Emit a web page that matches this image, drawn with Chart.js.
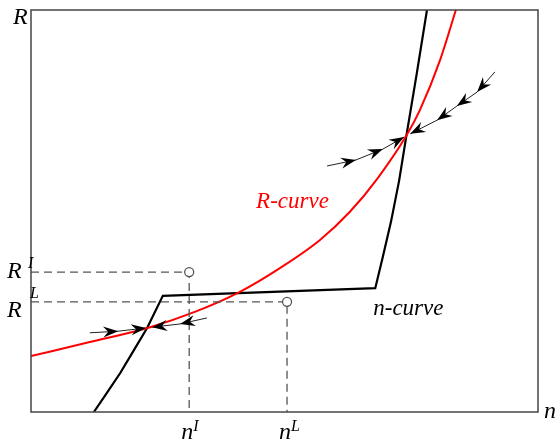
<!DOCTYPE html>
<html>
<head>
<meta charset="utf-8">
<script src="https://cdn.jsdelivr.net/npm/chart.js@4.4.1/dist/chart.umd.min.js"></script>
<style>
  html, body { margin: 0; padding: 0; background: #fff; }
  #wrap { width: 557px; height: 441px; }
</style>
</head>
<body>
<div id="wrap"><canvas id="grafico" width="557" height="441"></canvas></div>
<script>
// curva R (vermelha)
var rCurveX = [0, 11.6, 23.5, 32.3, 41.2, 49.1, 57.0, 62.9, 68.4, 74.1, 76.7, 80.7, 83.8];
var rCurveY = [13.9, 17.4, 21.1, 24.9, 29.9, 35.8, 42.8, 49.8, 58.2, 68.9, 75.1, 87.6, 100];

// curva n (preta)
var nCurveX = [12.4, 15.2, 17.6, 20.3, 22.9, 26.0, 67.9, 69.4, 71.0, 72.6, 74.1, 76.1, 78.1];
var nCurveY = [0, 5.2, 9.7, 15.4, 20.9, 28.9, 30.8, 38.6, 47.3, 57.5, 69.2, 84.3, 100];

// niveis marcados
var nivelR = { I: 34.8, L: 27.4 };
var nivelN = { I: 31.2, L: 50.5 };

// setas de ajuste (primeiro ponto = inicio, restantes = pontas)
var setaBaixoEsqX = [11.6, 17.2, 22.7];
var setaBaixoEsqY = [19.7, 20.1, 20.9];
var setaBaixoDirX = [34.7, 29.4, 23.9];
var setaBaixoDirY = [23.4, 21.9, 21.1];
var setaCimaEsqX = [58.4, 64.1, 69.4, 73.6];
var setaCimaEsqY = [61.2, 62.7, 65.4, 68.4];
var setaCimaDirX = [91.5, 88.0, 84.0, 80.1, 74.8];
var setaCimaDirY = [84.6, 79.6, 76.1, 72.6, 69.2];

function pontos(xs, ys) {
	return xs.map(function(x, i) { return { x: x, y: ys[i] }; });
}

function tracejado(k) {
	return {
		data: [
			{ x: 0, y: nivelR[k] },
			{ x: nivelN[k], y: nivelR[k] },
			{ x: nivelN[k], y: 0 }
		],
		borderColor: "#555",
		borderWidth: 1.3,
		borderDash: [8, 5],
		pointRadius: [0, 4.5, 0],
		pointBorderColor: "#555",
		pointBackgroundColor: "#fff",
		pointBorderWidth: 1.3,
		tension: 0
	};
}

function seta(xs, ys) {
	return {
		data: pontos(xs, ys),
		borderColor: "#222",
		borderWidth: 1,
		pointRadius: 0,
		tension: 0,
		arrows: true
	};
}

/* Moldura, pontas das setas e textos */
var desenhos = {
	id: "desenhos",
	afterDatasetsDraw: function(chart) {
		var ctx = chart.ctx;
		var a = chart.chartArea;
		ctx.save();
		ctx.strokeStyle = "#444";
		ctx.lineWidth = 1.5;
		ctx.strokeRect(a.left, a.top, a.right - a.left, a.bottom - a.top);

		chart.data.datasets.forEach(function(ds, i) {
			if (!ds.arrows) return;
			var pts = chart.getDatasetMeta(i).data;
			for (var j = 1; j < pts.length; j++) {
				var p0 = pts[j - 1], p1 = pts[j];
				var ang = Math.atan2(p1.y - p0.y, p1.x - p0.x);
				ctx.save();
				ctx.translate(p1.x, p1.y);
				ctx.rotate(ang);
				ctx.fillStyle = "#000";
				ctx.beginPath();
				ctx.moveTo(0, 0);
				ctx.lineTo(-15, -5.5);
				ctx.lineTo(-10, 0);
				ctx.lineTo(-15, 5.5);
				ctx.closePath();
				ctx.fill();
				ctx.restore();
			}
		});

		var xs = chart.scales.x, ys = chart.scales.y;
		ctx.fillStyle = "#000";
		ctx.textBaseline = "alphabetic";
		ctx.textAlign = "left";
		var grande = "italic 24px 'Liberation Serif'";
		var pequeno = "italic 16px 'Liberation Serif'";

		ctx.font = grande;
		ctx.fillText("R", a.left - 18, a.top + 14);
		ctx.fillText("n", a.right + 6, a.bottom + 6);

		// R^I e R^L
		["I", "L"].forEach(function(k) {
			var y = ys.getPixelForValue(nivelR[k]);
			ctx.font = grande;
			ctx.fillText("R", a.left - 24, y + (k == "I" ? 6 : 15));
			ctx.font = pequeno;
			ctx.fillText(k, a.left - (k == "I" ? 3 : 1), y - 4);
		});

		// n^I e n^L
		["I", "L"].forEach(function(k) {
			var x = xs.getPixelForValue(nivelN[k]);
			ctx.font = grande;
			ctx.fillText("n", x - 8, a.bottom + 27);
			ctx.font = pequeno;
			ctx.fillText(k, x + 4, a.bottom + 19);
		});

		ctx.font = "italic 23px 'Liberation Serif'";
		ctx.fillStyle = "#ff0000";
		ctx.fillText("R-curve", xs.getPixelForValue(44.4), ys.getPixelForValue(50.7));
		ctx.fillStyle = "#000";
		ctx.fillText("n-curve", xs.getPixelForValue(67.5), ys.getPixelForValue(24.1));
		ctx.restore();
	}
};

var chartCurvas = new Chart(document.getElementById("grafico"), {
	type: "line",
	data: {
		datasets: [
			tracejado("I"),
			tracejado("L"),
			{
				data: pontos(rCurveX, rCurveY),
				borderColor: "#ff0000",
				borderWidth: 2,
				pointRadius: 0,
				cubicInterpolationMode: "monotone"
			},
			{
				data: pontos(nCurveX, nCurveY),
				borderColor: "#000",
				borderWidth: 2.2,
				pointRadius: 0,
				tension: 0
			},
			seta(setaBaixoEsqX, setaBaixoEsqY),
			seta(setaBaixoDirX, setaBaixoDirY),
			seta(setaCimaEsqX, setaCimaEsqY),
			seta(setaCimaDirX, setaCimaDirY)
		]
	},
	options: {
		responsive: false,
		animation: false,
		layout: { padding: { left: 31, right: 19, top: 10, bottom: 29 } },
		plugins: { legend: { display: false }, tooltip: { enabled: false } },
		scales: {
			x: { type: "linear", min: 0, max: 100, display: false },
			y: { type: "linear", min: 0, max: 100, display: false }
		}
	},
	plugins: [desenhos]
});
</script>
</body>
</html>
